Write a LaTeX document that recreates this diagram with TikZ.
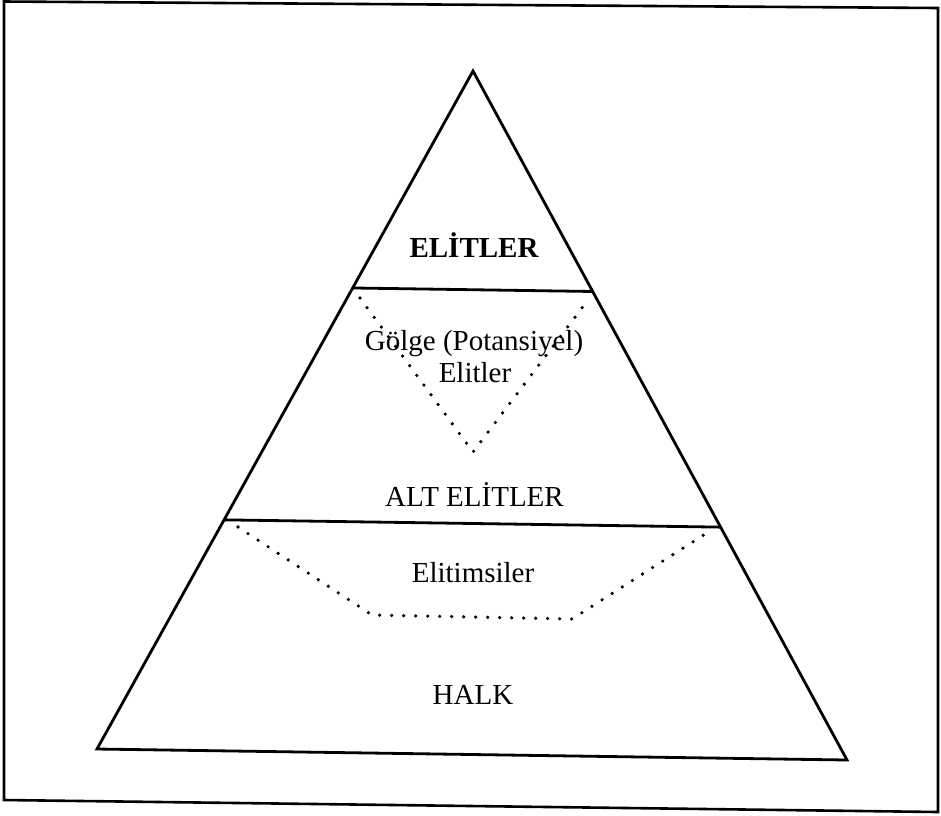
\documentclass[tikz,border=0pt]{standalone}
\usepackage{fontspec}
\setmainfont{Liberation Serif}
\usetikzlibrary{calc}

\begin{document}
\begin{tikzpicture}[x=1pt,y=-1pt,line join=miter,
  layer/.style={line width=2.8pt},
  dots/.style={line width=3.6pt,line cap=round,dash pattern=on 0pt off 12pt},
  tag/.style={anchor=base,inner sep=0pt,font=\fontsize{29}{32}\selectfont}]
  \useasboundingbox (0,0) rectangle (941,815);
  \draw[line width=2.6pt] (4,1.5) -- (938,8) -- (938,812) -- (4,800) -- cycle;
  \coordinate (apex) at (473,71);
  \coordinate (bl) at (97,749);
  \coordinate (br) at (847,760);
  \draw[layer] (apex) -- (bl) -- (br) -- cycle;
  \coordinate (e1) at ($(apex)!0.32!(bl)$);
  \coordinate (e2) at ($(apex)!0.32!(br)$);
  \coordinate (a1) at ($(apex)!0.662!(bl)$);
  \coordinate (a2) at ($(apex)!0.662!(br)$);
  \draw[layer] (e1) -- (e2);
  \draw[layer] (a1) -- (a2);
  \coordinate (g1) at (360,298);
  \coordinate (g2) at (473,452);
  \coordinate (g3) at (588,300);
  \draw[dots] (g1) -- (g2) -- (g3);
  \coordinate (m1) at (238,527);
  \coordinate (m2) at (372,615);
  \coordinate (m3) at (572,619);
  \coordinate (m4) at (713,529);
  \draw[dots] (m1) -- (m2) -- (m3) -- (m4);
  \node[tag,font=\fontsize{29}{32}\selectfont\bfseries] (elitler) at (474,257) {ELİTLER};
  \node[tag] (golge) at (474,350) {Gölge (Potansiyel)};
  \node[tag] (golgeb) at (475,382) {Elitler};
  \node[tag] (alt) at (474.5,506) {ALT ELİTLER};
  \node[tag] (elitimsi) at (473,582) {Elitimsiler};
  \node[tag] (halk) at (473,704) {HALK};
\end{tikzpicture}
\end{document}
